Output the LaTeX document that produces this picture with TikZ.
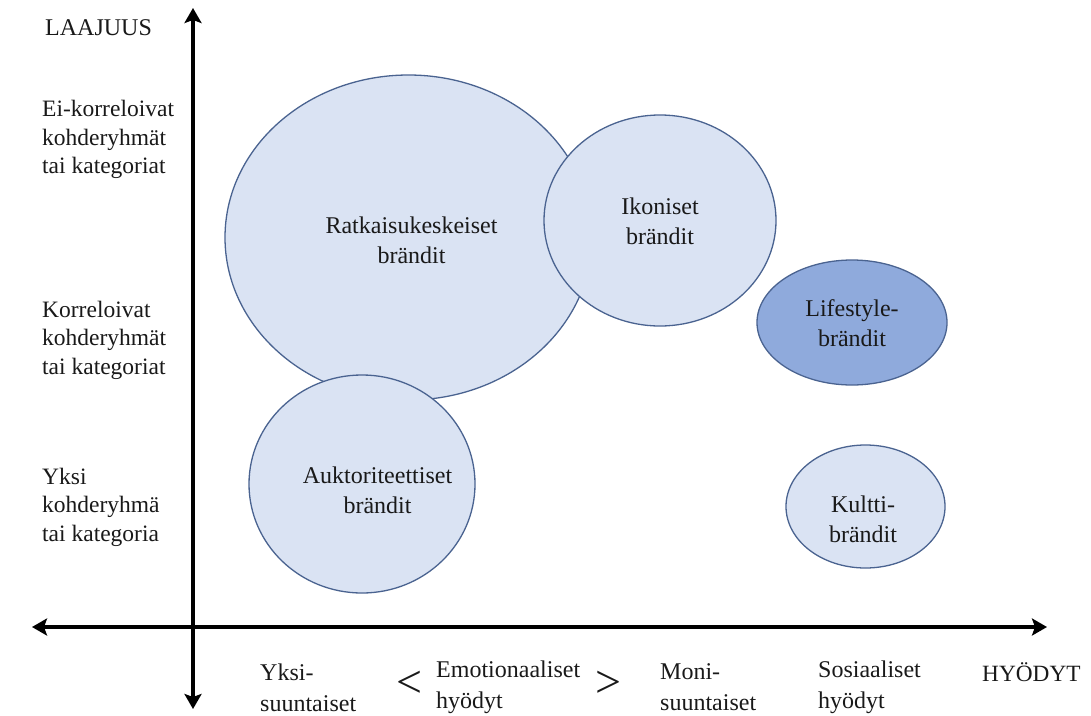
\documentclass[tikz,border=0pt]{standalone}
\usepackage{fontspec}
\setmainfont{Liberation Serif}
\usetikzlibrary{shapes.geometric,arrows.meta}
\definecolor{bubfill}{HTML}{DAE3F3}
\definecolor{bubdark}{HTML}{8FAADC}
\definecolor{bubline}{HTML}{4A6390}
\begin{document}
\begin{tikzpicture}[x=1pt,y=-1pt,
  bubble/.style={ellipse,draw=bubline,line width=1.3pt,fill=bubfill,inner sep=0pt},
  btext/.style={align=center,font=\fontsize{24pt}{30pt}\selectfont,text=black!90},
  ltext/.style={align=left,anchor=west,inner sep=0pt,font=\fontsize{23.5pt}{28.5pt}\selectfont,text=black!90},
  xtext/.style={align=left,anchor=west,inner sep=0pt,font=\fontsize{24pt}{31pt}\selectfont,text=black!90},
  cmp/.style={inner sep=0pt,font=\fontsize{46pt}{46pt}\selectfont,text=black!90},
  axis/.style={line width=3.6pt,{Stealth[length=15pt,width=17pt,inset=3pt]}-{Stealth[length=15pt,width=17pt,inset=3pt]}}
]
\useasboundingbox (0,0) rectangle (1091,715);
% axes
\coordinate (ybot) at (193,709);
\coordinate (ytop) at (193,8);
\coordinate (xleft) at (32,627);
\coordinate (xright) at (1047,627);
\draw[axis] (ybot) -- (ytop);
\draw[axis] (xleft) -- (xright);
% bubbles
\node[bubble,minimum width=367pt,minimum height=325pt] (ratk) at (408.5,237.5) {};
\node[bubble,minimum width=232pt,minimum height=211pt] (ikon) at (660,220.5) {};
\node[bubble,minimum width=226pt,minimum height=218pt] (auk) at (362,484) {};
\node[bubble,fill=bubdark,minimum width=190pt,minimum height=125pt] (life) at (852,322.5) {};
\node[bubble,minimum width=159pt,minimum height=123pt] (kult) at (865.5,506.5) {};
% bubble texts
\node[btext] (ratkT) at (411.5,240.5) {Ratkaisukeskeiset\\brändit};
\node[btext] (ikonT) at (660,221.5) {Ikoniset\\brändit};
\node[btext] (aukT) at (377.5,490.5) {Auktoriteettiset\\brändit};
\node[btext] (lifeT) at (852,323.5) {Lifestyle-\\brändit};
\node[btext] (kultT) at (863,519.5) {Kultti-\\brändit};
% y labels
\node[xtext] (laaj) at (45,28) {LAAJUUS};
\node[ltext] (y3) at (42,139.5) {Ei-korreloivat\\kohderyhmät\\tai kategoriat};
\node[ltext] (y2) at (42,340) {Korreloivat\\kohderyhmät\\tai kategoriat};
\node[ltext] (y1) at (42,507) {Yksi\\kohderyhmä\\tai kategoria};
% x labels
\node[xtext] (x1) at (260,687.5) {Yksi-\\suuntaiset};
\node[cmp] (lt) at (409,684) {<};
\node[xtext] (x2) at (436,687.5) {Emotionaaliset\\hyödyt};
\node[cmp] (gt) at (608,684) {>};
\node[xtext] (x3) at (660,687.5) {Moni-\\suuntaiset};
\node[xtext] (x4) at (818,687.5) {Sosiaaliset\\hyödyt};
\node[xtext,font=\fontsize{23.3pt}{31pt}\selectfont] (hyo) at (982,672) {HYÖDYT};
\end{tikzpicture}
\end{document}
